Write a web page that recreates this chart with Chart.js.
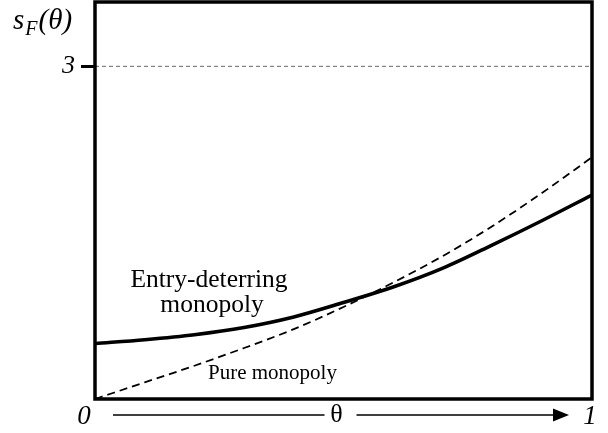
<!DOCTYPE html>
<html>
<head>
<meta charset="utf-8">
<script src="https://cdn.jsdelivr.net/npm/chart.js@4.4.0/dist/chart.umd.min.js"></script>
<style>
  html, body { margin: 0; padding: 0; background: #fff; }
  canvas { display: block; }
</style>
</head>
<body>
<canvas id="grafico" width="608" height="433"></canvas>
<script>
const theta = [0, 0.1, 0.2, 0.3, 0.4, 0.5, 0.6, 0.7, 0.8, 0.9, 1];
const entryDeterring = [0.50, 0.535, 0.58, 0.645, 0.74, 0.87, 1.01, 1.18, 1.39, 1.61, 1.84];
const pureMonopoly = [0, 0.15, 0.30, 0.46, 0.63, 0.83, 1.05, 1.29, 1.56, 1.86, 2.18];
const yTicks = [3];
const refLevel = 3;
const xEnds = ["0", "1"];

const serif = "'Liberation Serif', 'Times New Roman', serif";

function pontos(valores) {
    return theta.map((t, i) => ({ x: t, y: valores[i] }));
}

const moldura = {
    id: "moldura",
    afterDatasetsDraw(chart) {
        const ctx = chart.ctx;
        const a = chart.chartArea;
        const xs = chart.scales.x;
        ctx.save();
        ctx.fillStyle = "#000";
        ctx.strokeStyle = "#000";

        // rótulos das curvas
        ctx.font = "25.5px " + serif;
        ctx.textAlign = "center";
        ctx.textBaseline = "alphabetic";
        ctx.fillText("Entry-deterring", 209, 287);
        ctx.fillText("monopoly", 212, 312);
        ctx.font = "21px " + serif;
        ctx.textAlign = "left";
        ctx.fillText("Pure monopoly", 208, 379);

        // título do eixo y: s_F(θ)
        ctx.font = "italic 29px " + serif;
        ctx.fillText("s", 13, 29);
        let w = ctx.measureText("s").width;
        ctx.font = "italic 20px " + serif;
        ctx.fillText("F", 13 + w + 1, 35);
        let w2 = ctx.measureText("F").width;
        ctx.font = "italic 29px " + serif;
        ctx.fillText("(θ)", 13 + w + w2 + 2, 29);

        // eixo x com seta
        const y = 415;
        const x0 = xs.getPixelForValue(0);
        const x1 = xs.getPixelForValue(1);
        ctx.font = "italic 27px " + serif;
        ctx.textAlign = "center";
        ctx.textBaseline = "middle";
        ctx.fillText(xEnds[0], x0 - 11, y + 2);
        ctx.fillText(xEnds[1], x1 - 2, y + 2);
        ctx.font = "26px " + serif;
        const xm = (x0 + x1) / 2 - 7;
        ctx.fillText("θ", xm, y);

        ctx.lineWidth = 1.7;
        ctx.beginPath();
        ctx.moveTo(113, y);
        ctx.lineTo(xm - 12, y);
        ctx.moveTo(xm + 20, y);
        ctx.lineTo(556, y);
        ctx.stroke();
        ctx.beginPath();
        ctx.moveTo(553, y - 6.5);
        ctx.lineTo(569, y);
        ctx.lineTo(553, y + 6.5);
        ctx.closePath();
        ctx.fill();

        // moldura
        ctx.lineWidth = 3.5;
        ctx.strokeRect(a.left, a.top, a.right - a.left, a.bottom - a.top);
        ctx.restore();
    }
};

new Chart(document.getElementById("grafico").getContext("2d"), {
    type: "line",
    data: {
        datasets: [
            {
                label: "nível 3",
                data: [{ x: 0, y: refLevel }, { x: 1, y: refLevel }],
                borderColor: "#666",
                borderWidth: 1,
                borderDash: [4, 3],
                pointRadius: 0
            },
            {
                label: "Pure monopoly",
                data: pontos(pureMonopoly),
                borderColor: "#000",
                borderWidth: 1.8,
                borderDash: [8, 5],
                pointRadius: 0,
                cubicInterpolationMode: "monotone"
            },
            {
                label: "Entry-deterring monopoly",
                data: pontos(entryDeterring),
                borderColor: "#000",
                borderWidth: 3.5,
                pointRadius: 0,
                cubicInterpolationMode: "monotone"
            }
        ]
    },
    options: {
        responsive: false,
        animation: false,
        devicePixelRatio: 1,
        layout: {
            padding: { left: 0, right: 16, top: 2, bottom: 34 }
        },
        plugins: {
            legend: { display: false },
            tooltip: { enabled: false }
        },
        scales: {
            x: {
                type: "linear",
                display: false,
                min: 0,
                max: 1
            },
            y: {
                type: "linear",
                min: 0,
                max: 3.58,
                afterBuildTicks: s => {
                    s.ticks = yTicks.map(v => ({ value: v }));
                },
                afterFit: s => {
                    s.width = 95;
                    s.paddingTop = 0;
                    s.paddingBottom = 0;
                },
                ticks: {
                    color: "#000",
                    padding: 6,
                    font: { family: serif, size: 26, style: "italic" },
                    callback: v => String(v)
                },
                grid: {
                    drawOnChartArea: false,
                    drawTicks: true,
                    tickLength: 14,
                    tickWidth: 3,
                    tickColor: "#000"
                },
                border: { display: false }
            }
        }
    },
    plugins: [moldura]
});
</script>
</body>
</html>
